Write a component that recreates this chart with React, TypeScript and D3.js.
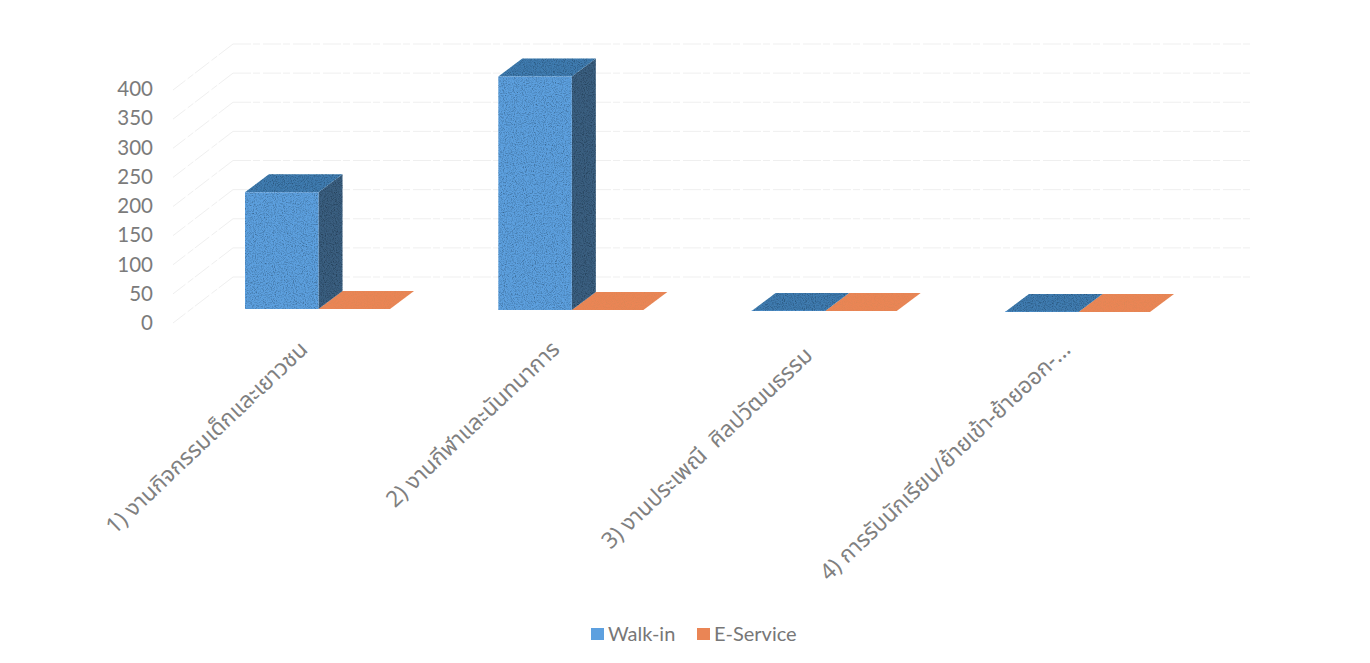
import React from "react";
import * as d3 from "d3";

const categories = [
  "1) งานกิจกรรมเด็กและเยาวชน",
  "2) งานกีฬาและนันทนาการ",
  "3) งานประเพณี  ศิลปวัฒนธรรม",
  "4) การรับนักเรียน/ย้ายเข้า-ย้ายออก-...",
];
const seriesNames = ["Walk-in", "E-Service"];
const walkIn = [200, 400, 0, 0];
const eService = [0, 0, 0, 0];
const ticks = [0, 50, 100, 150, 200, 250, 300, 350, 400];
const frontColors = ["#5da0df", "#ea8555"];
const topColors = ["#3f7cb0", "#ea8555"];
const sideColors = ["#3b5f80", "#b8623a"];

const W = 1370, H = 663;
const FONT = "Lato, 'Noto Sans', sans-serif";
const THAI = "'Noto Sans Thai', 'Noto Sans', Tahoma, 'DejaVu Sans', sans-serif";

const x = d3.scalePoint<number>().domain([0, 1, 2, 3]).range([245, 1005]);
const baseY = d3.scaleLinear().domain([0, 3]).range([309, 312]);
const h = d3.scaleLinear().domain([0, 400]).range([0, 233.5]);
const axisY = d3.scaleLinear().domain([0, 400]).range([323, 89]);
const backY = d3.scaleLinear().domain([0, 400]).range([277, 44]);
const BW = [73.5, 71.5];
const DX = 24, DY = -18;
const labelEnd = [[309, 351], [561, 351], [814, 357], [1072, 351]];

function Bar({ left, base, value, s }: { left: number; base: number; value: number; s: number }) {
  const t = base - h(value);
  const r = left + BW[s];
  const poly = (p: number[][]) => p.map((q) => q.join(",")).join(" ");
  return (
    <g filter={s === 0 ? "url(#grain)" : "url(#grainLight)"}>
      {value > 0 && (
        <polygon points={poly([[r, base], [r + DX, base + DY], [r + DX, t + DY], [r, t]])} fill={sideColors[s]} />
      )}
      <polygon points={poly([[left, t], [r, t], [r + DX, t + DY], [left + DX, t + DY]])} fill={topColors[s]} />
      {value > 0 ? (
        <rect x={left} y={t} width={BW[s]} height={h(value)} fill={frontColors[s]} />
      ) : (
        <line x1={left} x2={r} y1={base} y2={base} stroke={frontColors[s]} strokeWidth={1.2} />
      )}
    </g>
  );
}

export default function App() {
  return (
    <svg width={W} height={H} style={{ position: "absolute", left: 0, top: 0, display: "block", background: "#fff" }}>
      <defs>
        <filter id="grain" x="0" y="0" width="100%" height="100%">
          <feTurbulence type="fractalNoise" baseFrequency="0.9" numOctaves="2" seed="4" result="n" />
          <feColorMatrix in="n" type="matrix" values="0 0 0 0 0  0 0 0 0 0  0 0 0 0 0  1.3 0 0 0 -0.55" result="d" />
          <feComposite in="d" in2="SourceAlpha" operator="in" result="dots" />
          <feMerge>
            <feMergeNode in="SourceGraphic" />
            <feMergeNode in="dots" />
          </feMerge>
        </filter>
        <filter id="grainLight" x="0" y="0" width="100%" height="100%">
          <feTurbulence type="fractalNoise" baseFrequency="0.9" numOctaves="2" seed="9" result="n" />
          <feColorMatrix in="n" type="matrix" values="0 0 0 0 0.5  0 0 0 0 0.25  0 0 0 0 0.1  0.8 0 0 0 -0.35" result="d" />
          <feComposite in="d" in2="SourceAlpha" operator="in" result="dots" />
          <feMerge>
            <feMergeNode in="SourceGraphic" />
            <feMergeNode in="dots" />
          </feMerge>
        </filter>
      </defs>
      <g stroke="#efefef" strokeWidth={1} fill="none" strokeDasharray="18 2 7 3">
        {ticks.map((v) => (
          <g key={v}>
            <line x1={233} x2={1250} y1={backY(v)} y2={backY(v)} />
            <line x1={233} x2={173} y1={backY(v)} y2={backY(v) + 46} />
          </g>
        ))}
      </g>
      {ticks.map((v) => (
        <text key={v} x={153} y={axisY(v)} dy="0.35em" textAnchor="end" fontFamily={FONT} fontSize={20.5} fill="#7b7b7b">
          {v}
        </text>
      ))}
      {categories.map((_, i) => (
        <g key={i}>
          <Bar left={x(i)! + BW[0]} base={baseY(i)} value={eService[i]} s={1} />
          <Bar left={x(i)!} base={baseY(i)} value={walkIn[i]} s={0} />
        </g>
      ))}
      {categories.map((c, i) => (
        <text
          key={c}
          transform={`translate(${labelEnd[i][0]},${labelEnd[i][1]}) rotate(-43.5)`}
          textAnchor="end"
          fontFamily={THAI}
          fontSize={22.5}
          fill="#808080"
          xmlSpace="preserve"
        >
          {c}
        </text>
      ))}
      <rect x={591} y={628} width={13} height={12} fill={frontColors[0]} />
      <text x={608} y={641} fontFamily={FONT} fontSize={20} fill="#777">{seriesNames[0]}</text>
      <rect x={697} y={628} width={13} height={12} fill={frontColors[1]} />
      <text x={714} y={641} fontFamily={FONT} fontSize={20} fill="#777">{seriesNames[1]}</text>
    </svg>
  );
}
